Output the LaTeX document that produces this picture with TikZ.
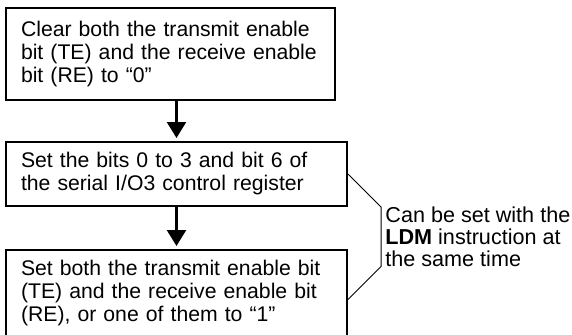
\documentclass[tikz,border=0pt]{standalone}
\usepackage{fontspec}
\setmainfont{Liberation Sans}
\usetikzlibrary{positioning,arrows.meta,calc}

\begin{document}
\begin{tikzpicture}[
  st/.style={draw, line width=1pt, align=left, font=\fontsize{10.6pt}{11.5pt}\selectfont,
             inner xsep=7.5pt, inner ysep=0pt, anchor=north west},
  arr/.style={line width=1.2pt, -{Triangle[width=9.5pt,length=8pt]}, shorten >=1.5pt},
  brk/.style={line width=0.5pt},
  note/.style={align=left, font=\fontsize{10.8pt}{11pt}\selectfont, inner sep=0pt, anchor=west}
]
\useasboundingbox (0,0) rectangle (286pt,-167pt);
\node[st, text width=149.5pt, minimum height=46pt] (clr) at (2.5pt,-3.5pt) {Clear both the transmit enable\\bit (TE) and the receive enable\\bit (RE) to “0”};
\node[st, text width=155.5pt, minimum height=32pt, below=20pt of clr.south west, anchor=north west] (ser) {Set the bits 0 to 3 and bit 6 of\\the serial I/O3 control register};
\node[st, text width=155.5pt, minimum height=43.5pt, below=21pt of ser.south west, anchor=north west] (set) {Set both the transmit enable bit\\(TE) and the receive enable bit\\(RE), or one of them to “1”};
\draw[arr] (clr.south -| ser.north) -- (ser);
\draw[arr] (ser) -- (set);
\coordinate (bkend) at ($(set.east)+(0,-3pt)$);
\draw[brk] (ser.east) -- ++(16.5pt,-16.5pt) coordinate (bk1) -- ($(bkend)+(16.5pt,16.5pt)$) coordinate (bk2) -- (bkend);
\coordinate (bkm) at ($(bk1)!.5!(bk2)$);
\node[note, right=2pt of bkm] (ldm) {Can be set with the\\\textbf{LDM} instruction at\\the same time};
\end{tikzpicture}
\end{document}
